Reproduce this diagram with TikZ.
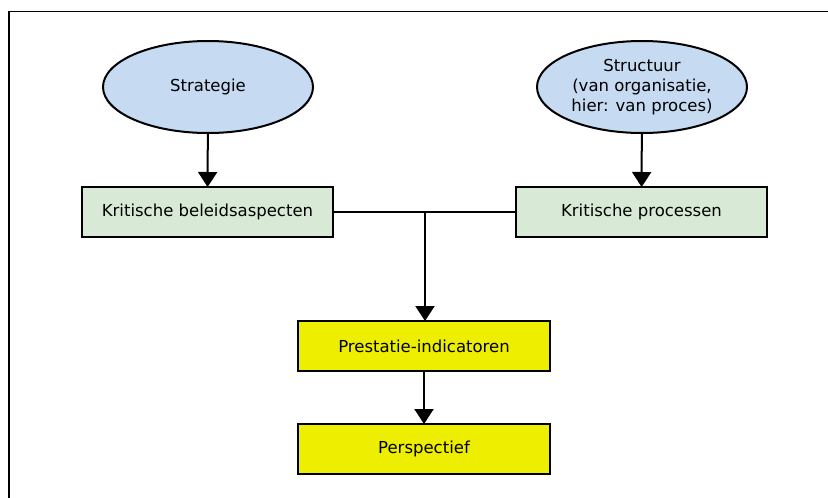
\documentclass[tikz,border=0pt]{standalone}
\usepackage{fontspec}
\setmainfont{DejaVu Sans}
\usetikzlibrary{shapes.geometric,arrows.meta}
\definecolor{ellblue}{RGB}{198,219,241}
\definecolor{boxgreen}{RGB}{216,234,214}
\definecolor{boxyellow}{RGB}{238,238,0}
\tikzset{
  x=1pt, y=-1pt,
  every node/.style={font=\fontsize{16.5}{20}\selectfont, inner sep=0pt, outer sep=0pt},
  goal/.style={ellipse, draw, line width=2pt, fill=ellblue, minimum width=210pt, minimum height=92pt, align=center},
  greenbox/.style={rectangle, draw, line width=2.2pt, fill=boxgreen, minimum width=251pt, minimum height=50pt},
  yellowbox/.style={rectangle, draw, line width=2.2pt, fill=boxyellow, minimum width=252pt, minimum height=50pt},
  link/.style={line width=2pt},
  flow/.style={link, -{Triangle[length=15pt, width=19pt]}}
}
\begin{document}
\begin{tikzpicture}
\useasboundingbox (0,0) rectangle (828,498);
% open frame: top and left edges only
\draw[line width=1.5pt] (9,498) -- (9,11.5) -- (828,11.5);

\node[goal] (strat) at (208,87) {Strategie};
\node[goal] (struct) at (642,87) {Structuur\\(van organisatie,\\hier: van proces)};
\node[greenbox] (beleid) at (207.5,212) {Kritische beleidsaspecten};
\node[greenbox] (proces) at (641.5,212) {Kritische processen};
\node[yellowbox] (prest) at (424,346) {Prestatie-indicatoren};
\node[yellowbox] (persp) at (424,449) {Perspectief};
\coordinate (join) at (425,212);

\draw[flow] (strat) -- (beleid);
\draw[flow] (struct) -- (proces);
\draw[link] (beleid.east) -- (proces.west);
\draw[flow] (join) -- (join |- prest.north);
\draw[flow] (prest) -- (persp);
\end{tikzpicture}
\end{document}
